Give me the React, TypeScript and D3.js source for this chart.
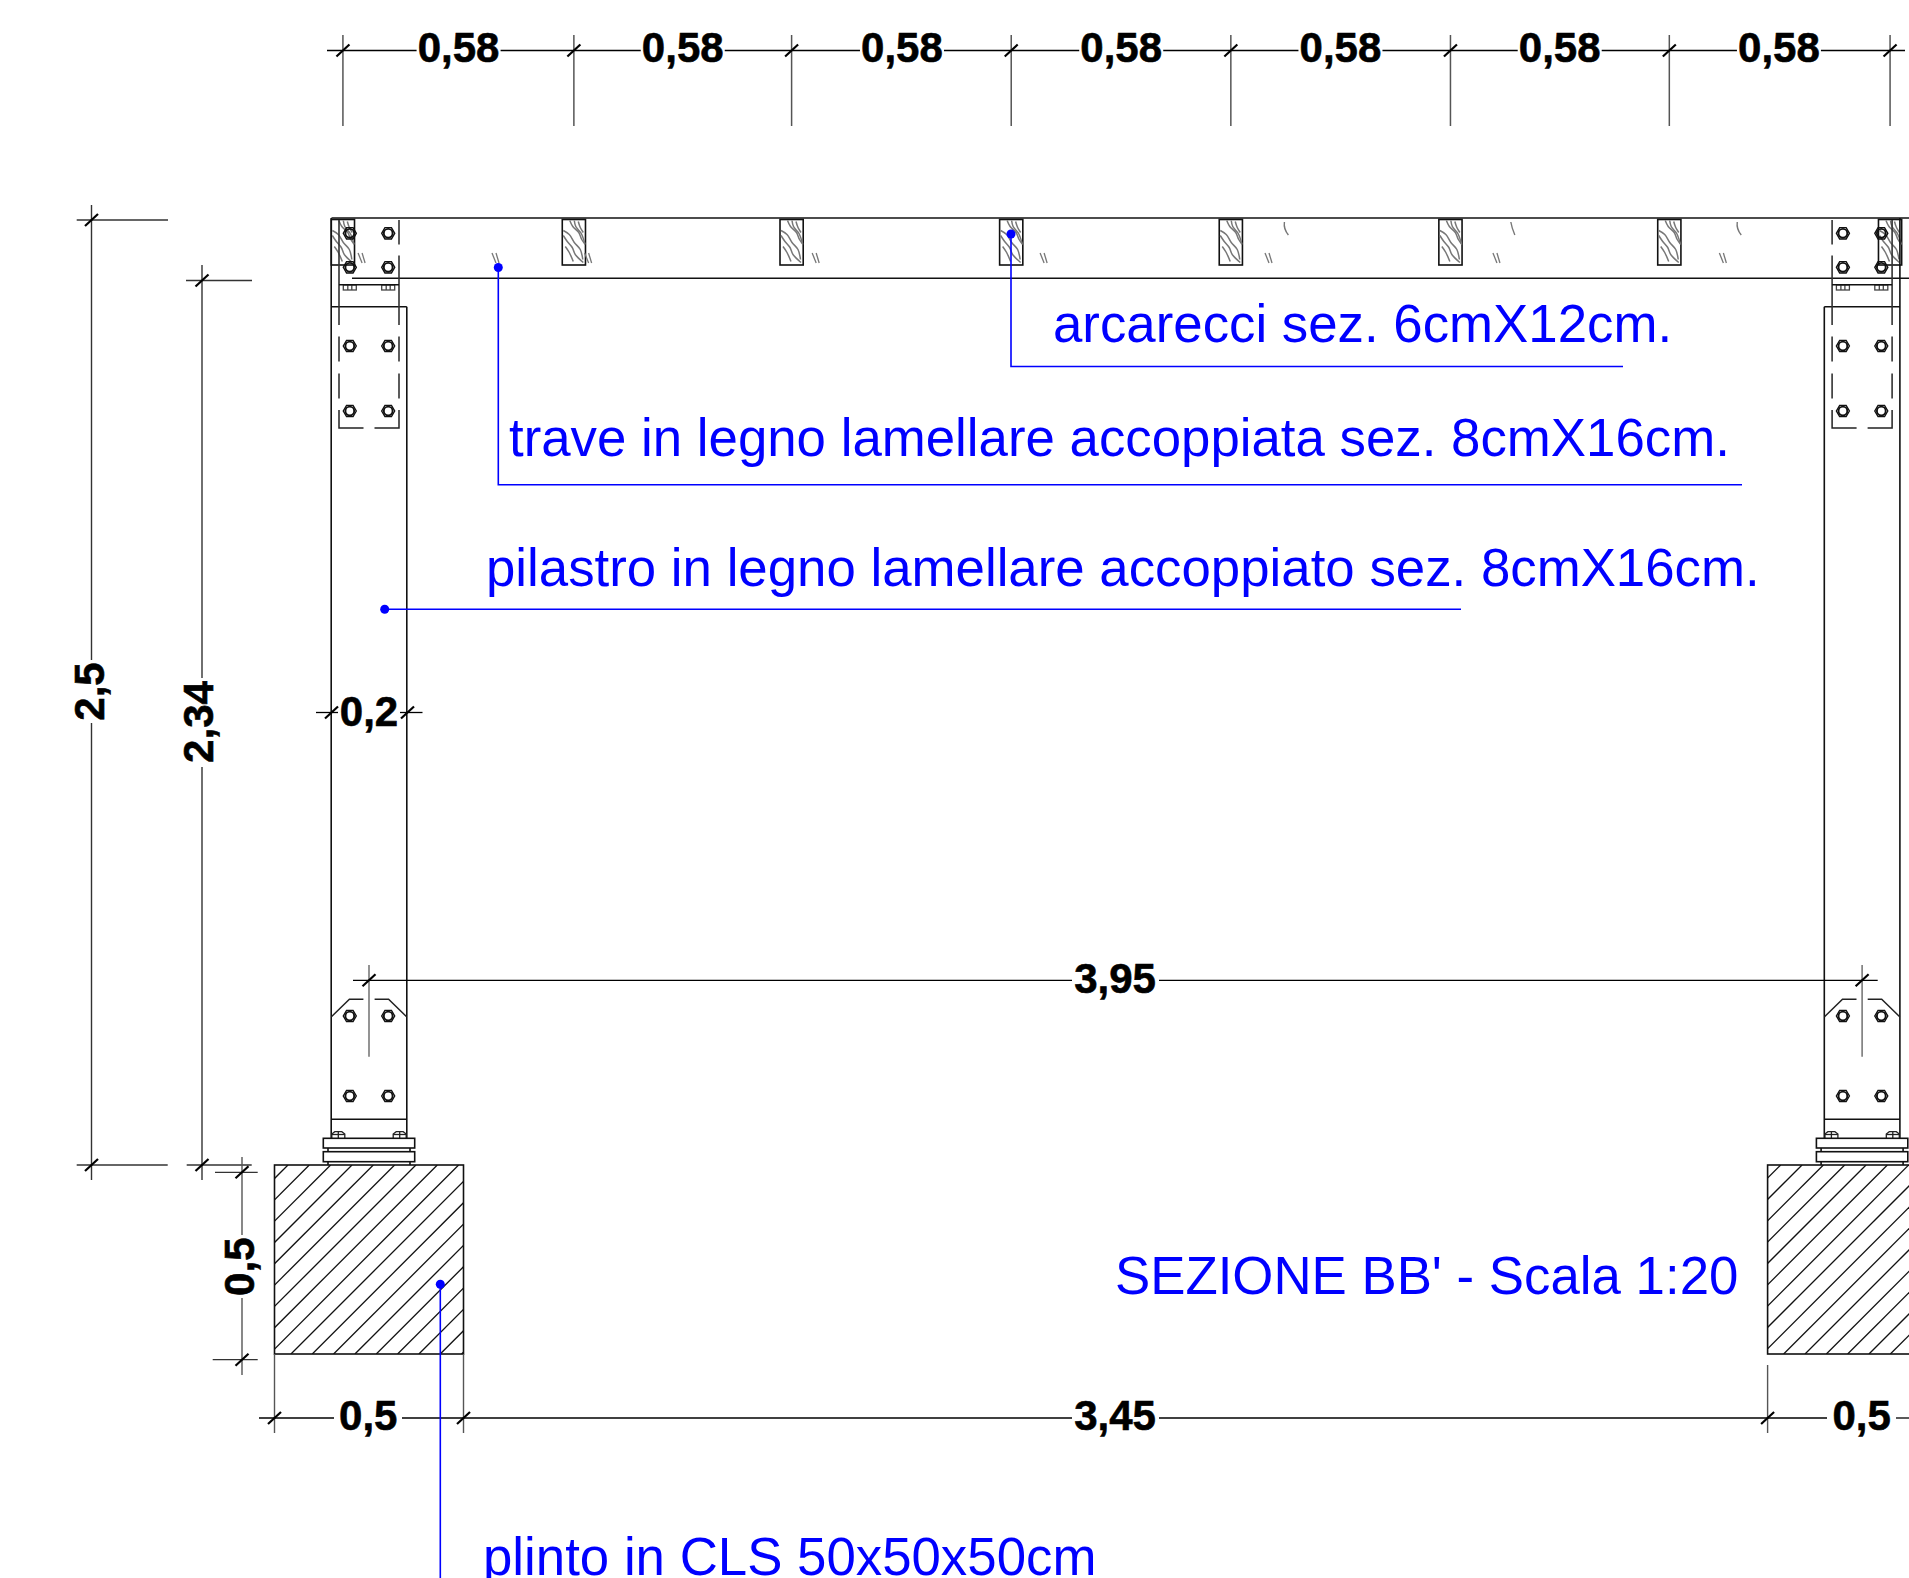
import React from "react";
import * as d3 from "d3";

const W = 1909, H = 1578;
// metres measured along the section
const purlinX = [0.181, 0.792, 1.368, 1.949, 2.53, 3.111, 3.69, 4.274];
const topLabels = ["0,58", "0,58", "0,58", "0,58", "0,58", "0,58", "0,58"];
const topLabelX = [0.487, 1.08, 1.66, 2.24, 2.82, 3.4, 3.98];
const columnX = [0.25, 4.2];
const footingX = [0, 3.95];
const footingW = 0.5;
const footingD = 0.5;
const colW = 0.2;
const colH = 2.34;
const totalH = 2.5;
const markX = [0.2317, 0.586, 0.831, 1.433, 2.036, 2.631, 3.234, 3.833];
const archX = [2.677, 3.276, 3.875];
const archDir = [-1, 1, -1];

const x = d3.scaleLinear().domain([0, 1]).range([274.5, 652.5]);
const y = d3.scaleLinear().domain([0, 1]).range([1165, 787]);

const INK = "#111";
const BLUE = "#0000ff";
const GREY = "#777";
const SANS = "'Liberation Sans', Arial, sans-serif";

const curve = d3.line<number[]>().curve(d3.curveCatmullRom.alpha(0.5));
const grain = [
  [[7.5, 1], [10.5, 7], [16.5, 13], [19.5, 20], [23, 25]],
  [[12, 1], [13.5, 7], [19, 14], [22.5, 24]],
  [[1, 11], [7, 15], [12, 23], [18, 30], [20.5, 40]],
  [[1, 16], [5, 22], [10, 28], [13, 35], [21, 43]],
  [[3, 27], [7, 33], [11, 42]],
  [[16, 2], [18, 8], [21, 13]],
];

const hexPath = (r: number) => {
  const a = d3.range(6).map((i) => (Math.PI / 3) * i);
  return d3.line()(a.map((t) => [r * Math.cos(t), r * Math.sin(t)] as [number, number])) + "Z";
};

const Ln = ({ a, b, c, d, s = INK, w = 1.6 }: any) => (
  <line x1={a} y1={b} x2={c} y2={d} stroke={s} strokeWidth={w} />
);

const Bolt = ({ cx, cy }: any) => (
  <g transform={`translate(${cx},${cy})`} fill="none" stroke="#111">
    <path d={hexPath(6.5)} strokeWidth={1.4} />
    <circle r={4.4} strokeWidth={1.9} />
  </g>
);

const Tick = ({ cx, cy, flip = false }: any) => (
  <line
    x1={cx - (flip ? -6.5 : 6.5)}
    y1={cy + (flip ? -6 : 6)}
    x2={cx + (flip ? -6.5 : 6.5)}
    y2={cy - (flip ? -6 : 6)}
    stroke="#000"
    strokeWidth={2.2}
  />
);

const HLabel = ({ t, cx, base }: any) => (
  <text x={cx} y={base} textAnchor="middle" fontFamily={SANS} fontWeight="700" fontSize={42} fill="#000" stroke="#000" strokeWidth={0.6}>
    {t}
  </text>
);
const VLabel = ({ t, base, cy }: any) => (
  <text
    transform={`translate(${base},${cy}) rotate(-90)`}
    textAnchor="middle"
    fontFamily={SANS}
    fontWeight="700"
    fontSize={42}
    fill="#000"
    stroke="#000"
    strokeWidth={0.6}
  >
    {t}
  </text>
);
const Note = ({ t, px, base }: any) => (
  <text x={px} y={base} fontFamily={SANS} fontSize={52.8} fill={BLUE}>
    {t}
  </text>
);
const Leader = ({ pts }: any) => (
  <g>
    <path d={d3.line()(pts) as string} fill="none" stroke={BLUE} strokeWidth={1.6} />
    <circle cx={pts[0][0]} cy={pts[0][1]} r={4.5} fill={BLUE} />
  </g>
);

const Purlin = ({ cx }: any) => (
  <g transform={`translate(${cx - 11.6},219.5)`}>
    <rect width={23.2} height={45.5} fill="#fff" stroke={INK} strokeWidth={1.6} />
    {grain.map((g, i) => (
      <path key={i} d={curve(g as any) as string} fill="none" stroke={GREY} strokeWidth={1.5} />
    ))}
  </g>
);

const Column = ({ m, outer }: any) => {
  const c = x(m);
  const L = x(m - colW / 2);
  const R = x(m + colW / 2);
  const pl = 30;
  const b = 19.2;
  const top = y(colH) + 26.2;
  const sides = [-1, 1];
  return (
    <g>
      <Ln a={L} b={top} c={R} d={top} />
      <Ln a={R} b={outer > 0 ? 218 : top} c={R} d={1138} />
      <Ln a={L} b={outer < 0 ? 218 : top} c={L} d={1138} />
      {sides.map((sd) => {
        const px = c + sd * pl;
        const isOuter = sd === outer;
        return (
          <g key={sd}>
            {isOuter ? (
              <Ln a={px} b={220} c={px} d={325} s="#333" />
            ) : (
              <g>
                <Ln a={px} b={220} c={px} d={244.5} s="#333" />
                <Ln a={px} b={255.5} c={px} d={325} s="#333" />
              </g>
            )}
            <Ln a={px} b={336.5} c={px} d={361.5} s="#333" />
            <Ln a={px} b={373.5} c={px} d={398.5} s="#333" />
            <path
              d={d3.line()([[px, 410], [px, 428], [px - sd * 24.5, 428]]) as string}
              fill="none"
              stroke="#222"
              strokeWidth={1.5}
            />
            <path
              d={d3.line()([
                [c + sd * 37.6, 1016.7],
                [c + sd * 19.6, 999.3],
                [c + sd * 5.6, 999.3],
              ]) as string}
              fill="none"
              stroke="#222"
              strokeWidth={1.5}
            />
            {[233.3, 267.3, 346, 411, 1016, 1096].map((by) => (
              <Bolt key={by} cx={c + sd * b} cy={by} />
            ))}
            <g fill="none" stroke="#444" strokeWidth={1.3}>
              <rect x={c + sd * b - 6.5} y={285} width={13} height={5} />
              <line x1={c + sd * b - 2} x2={c + sd * b - 2} y1={285} y2={290} />
              <line x1={c + sd * b + 2} x2={c + sd * b + 2} y1={285} y2={290} />
            </g>
            <g fill="none" stroke="#222" strokeWidth={1.3}>
              <path d={`M${c + sd * 30.7 - 6.5},1138V1134L${c + sd * 30.7 - 3.5},1131.7H${c + sd * 30.7 + 3.5}L${c + sd * 30.7 + 6.5},1134V1138`} />
              <line x1={c + sd * 30.7 - 6.5} x2={c + sd * 30.7 + 6.5} y1={1134.5} y2={1134.5} />
              <line x1={c + sd * 30.7} x2={c + sd * 30.7} y1={1132} y2={1138} />
            </g>
          </g>
        );
      })}
      <Ln a={c - pl} b={284.7} c={c + pl} d={284.7} />
      <Ln a={L} b={1119.3} c={R} d={1119.3} />
      <g fill="#fff" stroke={INK} strokeWidth={1.6}>
        <rect x={c - 45.7} y={1138.3} width={91.4} height={9.7} />
        <rect x={c - 45.7} y={1151.7} width={91.4} height={10} />
      </g>
      <Ln a={c - 41} b={1148} c={c - 41} d={1151.7} />
      <Ln a={c + 41} b={1148} c={c + 41} d={1151.7} />
      <Ln a={c - 41} b={1161.7} c={c - 41} d={1165} />
      <Ln a={c + 41} b={1161.7} c={c + 41} d={1165} />
      <Ln a={c} b={965} c={c} d={1056.7} s="#666" w={1.4} />
    </g>
  );
};

const Footing = ({ m, id }: any) => {
  const X0 = x(m);
  const X1 = x(m + footingW);
  const Y0 = y(0);
  const Y1 = y(-footingD);
  const first = m === 0 ? 1474.3 - 21.33 * 4 : 2945.7 - 21.33 * 4;
  const sums = d3.range(0, 22).map((i) => first + 21.33 * i);
  return (
    <g>
      <clipPath id={id}>
        <rect x={X0} y={Y0} width={X1 - X0} height={Y1 - Y0} />
      </clipPath>
      <g clipPath={`url(#${id})`} stroke={INK} strokeWidth={1.3}>
        {sums.map((s, i) => (
          <line key={i} x1={s - Y0} y1={Y0} x2={s - Y1} y2={Y1} />
        ))}
      </g>
      <rect x={X0} y={Y0} width={X1 - X0} height={Y1 - Y0} fill="none" stroke={INK} strokeWidth={1.6} />
    </g>
  );
};

export default function App() {
  const dimY = 50.5;
  const tickXs = purlinX.map((v) => x(v));
  const labelXs = topLabelX.map((v) => x(v));
  return (
    <svg
      width={W}
      height={H}
      viewBox={`0 0 ${W} ${H}`}
      style={{ position: "absolute", left: 0, top: 0, display: "block", background: "#fff" }}
    >
      {/* top dimension chain */}
      {labelXs.map((c, i) => (
        <g key={i}>
          <Ln a={i === 0 ? 327 : labelXs[i - 1] + 42} b={dimY} c={c - 42} d={dimY} s="#000" w={1.3} />
          {i === 6 && <Ln a={c + 42} b={dimY} c={1905} d={dimY} s="#000" w={1.3} />}
          <HLabel t={topLabels[i]} cx={c} base={61.7} />
        </g>
      ))}
      {tickXs.map((t, i) => (
        <g key={i}>
          <Ln a={t} b={35} c={t} d={126} s="#555" w={1.5} />
          <Tick cx={t} cy={dimY} />
        </g>
      ))}

      {/* roof beam */}
      <Ln a={331.5} b={218} c={W} d={218} w={1.7} />
      <Ln a={352} b={278.3} c={W} d={278.3} w={1.6} />
      {purlinX.map((p, i) => (
        <Purlin key={i} cx={x(p)} />
      ))}
      {markX.map((m, i) => (
        <g key={i} stroke={GREY} strokeWidth={1.3} transform={`translate(${x(m)},258)`}>
          <line x1={-4} y1={-5} x2={0} y2={5} />
          <line x1={0} y1={-5} x2={3} y2={5} />
        </g>
      ))}
      {archX.map((m, i) => (
        <path
          key={i}
          transform={`translate(${x(m)},228)`}
          d={archDir[i] < 0 ? "M-2,-6Q-3,1 2,7" : "M-2,-6Q-1,0 2,7"}
          fill="none"
          stroke={GREY}
          strokeWidth={1.4}
        />
      ))}

      {/* pillars */}
      {columnX.map((m, i) => (
        <Column key={i} m={m} outer={i === 0 ? -1 : 1} />
      ))}
      {footingX.map((m, i) => (
        <Footing key={i} m={m} id={`f${i}`} />
      ))}

      {/* left vertical dimensions */}
      <Ln a={76.7} b={y(totalH)} c={168} d={y(totalH)} s="#333" w={1.3} />
      <Ln a={76.7} b={y(0)} c={167.7} d={y(0)} s="#333" w={1.3} />
      <Ln a={91.5} b={205} c={91.5} d={660} s="#333" w={1.4} />
      <Ln a={91.5} b={723} c={91.5} d={1180} s="#333" w={1.4} />
      <Tick cx={91.5} cy={y(totalH)} flip />
      <Tick cx={91.5} cy={y(0)} flip />
      <VLabel t="2,5" base={104} cy={691.5} />

      <Ln a={186} b={y(colH)} c={252} d={y(colH)} s="#333" w={1.3} />
      <Ln a={186.7} b={y(0)} c={251.7} d={y(0)} s="#333" w={1.3} />
      <Ln a={202} b={265} c={202} d={678} s="#333" w={1.4} />
      <Ln a={202} b={767} c={202} d={1180} s="#333" w={1.4} />
      <Tick cx={202} cy={y(colH)} flip />
      <Tick cx={202} cy={y(0)} flip />
      <VLabel t="2,34" base={213} cy={722} />

      <Ln a={215} b={1172.3} c={257.7} d={1172.3} s="#333" w={1.3} />
      <Ln a={212.7} b={1359.7} c={257.7} d={1359.7} s="#333" w={1.3} />
      <Ln a={242} b={1157} c={242} d={1235} s="#555" w={1.4} />
      <Ln a={242} b={1298} c={242} d={1375} s="#555" w={1.4} />
      <Tick cx={242} cy={1172.3} flip />
      <Tick cx={242} cy={1359.7} flip />
      <VLabel t="0,5" base={254} cy={1266.7} />

      {/* 0,2 width of pillar */}
      <Ln a={316} b={712.5} c={338} d={712.5} s="#000" w={1.3} />
      <Ln a={400} b={712.5} c={422.5} d={712.5} s="#000" w={1.3} />
      <Tick cx={331.5} cy={712.5} />
      <Tick cx={407.5} cy={712.5} />
      <HLabel t="0,2" cx={369} base={725.7} />

      {/* 3,95 */}
      <Ln a={353} b={980.3} c={1072} d={980.3} s="#000" w={1.3} />
      <Ln a={1159} b={980.3} c={1877.7} d={980.3} s="#000" w={1.3} />
      <Tick cx={x(columnX[0])} cy={980.3} />
      <Tick cx={x(columnX[1])} cy={980.3} />
      <HLabel t="3,95" cx={1115} base={993} />

      {/* bottom chain */}
      {[x(0), x(footingW)].map((v) => (
        <Ln key={v} a={v} b={1354} c={v} d={1433} s="#555" w={1.4} />
      ))}
      <Ln a={x(footingX[1])} b={1365} c={x(footingX[1])} d={1433} s="#555" w={1.4} />
      <Ln a={259} b={1418} c={334} d={1418} s="#000" w={1.3} />
      <Ln a={402} b={1418} c={1072} d={1418} s="#000" w={1.3} />
      <Ln a={1159} b={1418} c={1827} d={1418} s="#000" w={1.3} />
      <Ln a={1896} b={1418} c={1909} d={1418} s="#000" w={1.3} />
      {[x(0), x(footingW), x(footingX[1])].map((v) => (
        <Tick key={v} cx={v} cy={1418} />
      ))}
      <HLabel t="0,5" cx={368.3} base={1430} />
      <HLabel t="3,45" cx={1115} base={1430} />
      <HLabel t="0,5" cx={1861.6} base={1430} />

      {/* notes */}
      <Leader pts={[[1011, 234], [1011, 366.5], [1623, 366.5]]} />
      <Leader pts={[[498.3, 267.5], [498.3, 484.8], [1742, 484.8]]} />
      <Leader pts={[[384.7, 609.3], [1461, 609.3]]} />
      <Leader pts={[[440.3, 1284.3], [440.3, H]]} />
      <Note t="arcarecci sez. 6cmX12cm." px={1053} base={342} />
      <Note t="trave in legno lamellare accoppiata sez. 8cmX16cm." px={509} base={455.5} />
      <Note t="pilastro in legno lamellare accoppiato sez. 8cmX16cm." px={486} base={586} />
      <Note t="SEZIONE BB' - Scala 1:20" px={1115} base={1294} />
      <Note t="plinto in CLS 50x50x50cm" px={483} base={1575} />
    </svg>
  );
}
